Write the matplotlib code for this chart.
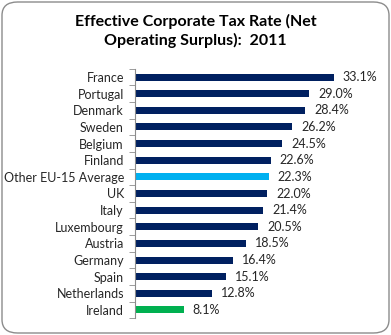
import matplotlib
matplotlib.use("Agg")
import matplotlib.pyplot as plt
from matplotlib.patches import FancyBboxPatch
import numpy as np

# --- dados ---
countries = ['France', 'Portugal', 'Denmark', 'Sweden', 'Belgium', 'Finland',
             'Other EU-15 Average', 'UK', 'Italy', 'Luxembourg', 'Austria',
             'Germany', 'Spain', 'Netherlands', 'Ireland']
rates = [33.1, 29.0, 28.4, 26.2, 24.5, 22.6, 22.3, 22.0, 21.4, 20.5, 18.5,
         16.4, 15.1, 12.8, 8.1]

NAVY = '#002060'
LIGHT = '#00B0F0'
GREEN = '#00B050'
colors = []
for c in countries:
    if c == 'Other EU-15 Average':
        colors.append(LIGHT)
    elif c == 'Ireland':
        colors.append(GREEN)
    else:
        colors.append(NAVY)

plt.rcParams['font.family'] = ['Lato', 'DejaVu Sans']

W, H = 391, 335
fig = plt.figure(figsize=(W / 100, H / 100), dpi=100)

# borda arredondada
border = FancyBboxPatch((2 / W, 2 / H), (W - 4) / W, (H - 4) / H,
                        boxstyle="round,pad=0,rounding_size=0.04",
                        transform=fig.transFigure, facecolor='none',
                        edgecolor='#8c8c8c', linewidth=1.0, zorder=-1)
fig.patches.append(border)

fig.text(0.5, 1 - 31 / H, 'Effective Corporate Tax Rate (Net\nOperating Surplus):  2011',
         ha='center', va='center', fontsize=11.5, fontweight='bold',
         color='black', linespacing=1.3)

ax_left, ax_right = 135, 375
ax_top, ax_bottom = 68.7, 318.3
ax = fig.add_axes([ax_left / W, 1 - ax_bottom / H,
                   (ax_right - ax_left) / W, (ax_bottom - ax_top) / H])
ax.set_facecolor('none')

y = np.arange(len(countries))
ax.barh(y, rates, height=0.42, color=colors)
ax.set_ylim(len(countries) - 0.5, -0.5)
ax.set_xlim(0, 40)

for yi, v in zip(y, rates):
    ax.text(v + 1.5, yi, f'{v:.1f}%', va='center', ha='left',
            fontsize=9, color='#262626')

ax.set_yticks(y)
ax.set_yticklabels(countries, fontsize=9, color='#262626')
ax.set_yticks(np.arange(-0.5, len(countries)), minor=True)
ax.tick_params(axis='y', which='major', length=0, pad=8)
ax.tick_params(axis='y', which='minor', length=4, color='#8c8c8c', direction='out')
ax.set_xticks([])
for s in ['top', 'right', 'bottom']:
    ax.spines[s].set_visible(False)
ax.spines['left'].set_color('#8c8c8c')
ax.spines['left'].set_linewidth(0.8)

fig.savefig('out.png', dpi=100)
